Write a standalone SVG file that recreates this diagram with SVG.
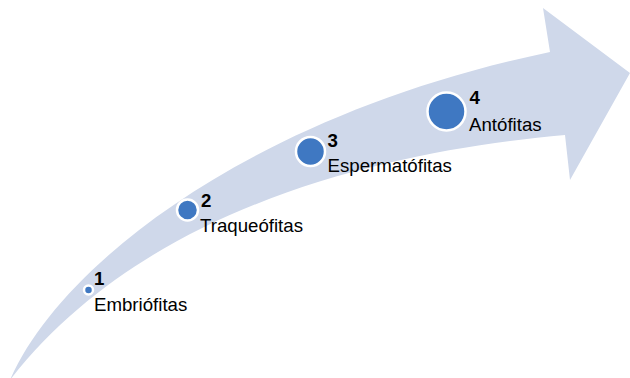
<svg xmlns="http://www.w3.org/2000/svg" width="630" height="378" viewBox="0 0 630 378">
<style>
.band{fill:#CFD8EA;stroke:none}
.dot{fill:#3F78C2;stroke:#FFFFFF;stroke-width:2.5}
.num{font-family:"Liberation Sans",Arial,sans-serif;font-size:18.67px;font-weight:bold;fill:#000}
.lbl{font-family:"Liberation Sans",Arial,sans-serif;font-size:18.67px;fill:#000}
</style>
<rect width="630" height="378" fill="#FFFFFF"/>
<g id="arrow">
<path class="band" d="M 10 380 C 60 265 250 115 550 52 L 543 8 L 630 73 L 570 180 L 565 135 C 400 150 150 200 10 380 Z"/>
</g>
<g id="connectors"></g>
<g id="node1">
<circle class="dot" cx="88.5" cy="290" r="4.5"/>
<text class="num" x="94" y="285">1</text>
<text class="lbl" x="94" y="311">Embriófitas</text>
</g>
<g id="node2">
<circle class="dot" cx="187.5" cy="210" r="10.5"/>
<text class="num" x="201" y="207">2</text>
<text class="lbl" x="200" y="232">Traqueófitas</text>
</g>
<g id="node3">
<circle class="dot" cx="310.5" cy="151.5" r="14.5"/>
<text class="num" x="327.5" y="147">3</text>
<text class="lbl" x="327.5" y="172">Espermatófitas</text>
</g>
<g id="node4">
<circle class="dot" cx="446.5" cy="111.5" r="19"/>
<text class="num" x="469.5" y="104">4</text>
<text class="lbl" x="469" y="130.5">Antófitas</text>
</g>
</svg>
